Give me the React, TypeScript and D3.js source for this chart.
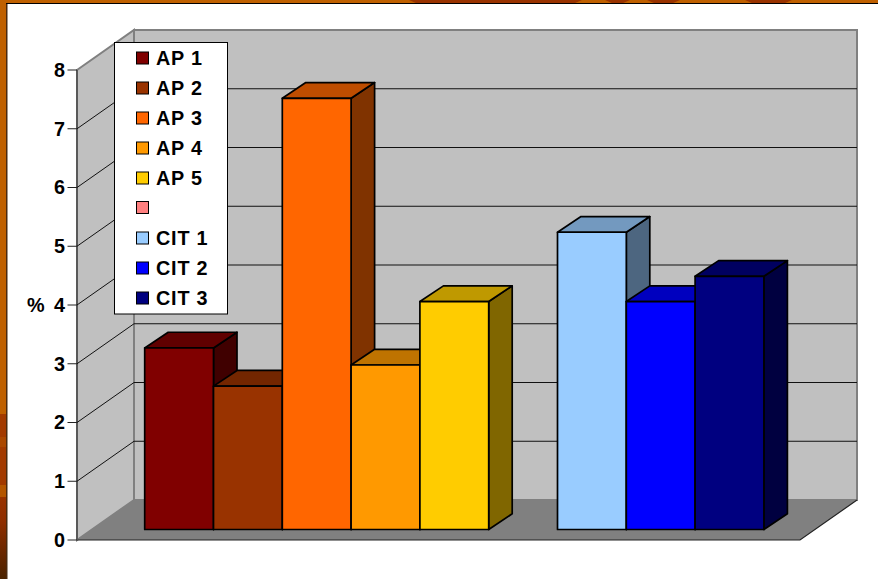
import * as d3 from "d3";

const seriesNames = ["AP 1", "AP 2", "AP 3", "AP 4", "AP 5", "", "CIT 1", "CIT 2", "CIT 3"];
const seriesValues: (number | null)[] = [3.09, 2.44, 7.34, 2.8, 3.88, null, 5.06, 3.88, 4.31];
const frontColors = ["#800000", "#993300", "#ff6600", "#ff9900", "#ffcc00", "#ff8080", "#99ccff", "#0000ff", "#000080"];
const axisTicks = [0, 1, 2, 3, 4, 5, 6, 7, 8];
const slotKeys = ["AP 1", "AP 2", "AP 3", "AP 4", "AP 5", "gap", "CIT 1", "CIT 2", "CIT 3", "end"];
const legendRowCentres = [58, 88, 118, 148, 178, 207.5, 238, 268, 298];

const W = 878;
const H = 579;
const FONT = "'Liberation Sans', Arial, sans-serif";
const LABEL_SIZE = 19.8;

// Oblique projection of the plot box
const wallDepth = { dx: 57, dy: -40 };
const barDepth = { dx: 23.5, dy: -15.7 };
const barBaseY = 529.5;

const y = d3.scaleLinear().domain([0, 8]).range([540, 70]);
const x = d3.scaleBand<string>().domain(slotKeys).range([144.7, 832.7]).padding(0);

const polygon = (pts: [number, number][]) => {
  const line = d3.line();
  return line(pts) + "Z";
};

const shade = (c: string, k: number) => {
  const rgb = d3.rgb(c);
  return d3.rgb(rgb.r * k, rgb.g * k, rgb.b * k).formatHex();
};

const leftX = 77;
const rightX = 800;
const backLeft = leftX + wallDepth.dx;
const backRight = rightX + wallDepth.dx;
const y0 = y(0);
const y8 = y(8);

function Frame() {
  return (
    <g>
      <defs>
        <linearGradient id="edgeFade" x1="0" x2="0" y1="0" y2="1">
          <stop offset="0" stopColor="#993300" />
          <stop offset="0.3" stopColor="#8f2e00" />
          <stop offset="1" stopColor="#4a2200" />
        </linearGradient>
      </defs>
      <rect x={0} y={0} width={W} height={3.5} fill="#bf6000" />
      <rect x={0} y={0} width={6.5} height={H} fill="#bf6000" />
      {[[409, 582], [605, 630], [647, 680], [745, 792]].map(([a, b]) => (
        <path key={a} d={polygon([[a, 0], [b, 0], [b - 8, 3.5], [a + 8, 3.5]])} fill="#993300" />
      ))}
      <rect x={0} y={414} width={6.5} height={23} fill="#a33a00" />
      <rect x={0} y={437} width={6.5} height={10} fill="#ab4800" />
      <rect x={0} y={447} width={6.5} height={38} fill="#a33a00" />
      <rect x={0} y={485} width={6.5} height={12} fill="#b45600" />
      <rect x={0} y={497} width={6.5} height={82} fill="url(#edgeFade)" />
      <rect x={6} y={3} width={1.5} height={H} fill="#4a2a10" />
      <rect x={6} y={3} width={W - 6} height={1} fill="#000" />
    </g>
  );
}

function Walls() {
  return (
    <g>
      <path
        d={polygon([[backLeft, y8 + wallDepth.dy], [backRight, y8 + wallDepth.dy], [backRight, y0 + wallDepth.dy], [backLeft, y0 + wallDepth.dy]])}
        fill="#c0c0c0"
        stroke="#808080"
        strokeWidth={2}
      />
      <path
        d={polygon([[leftX, y8], [backLeft, y8 + wallDepth.dy], [backLeft, y0 + wallDepth.dy], [leftX, y0]])}
        fill="#c0c0c0"
        stroke="#808080"
        strokeWidth={2}
      />
      <path
        d={polygon([[leftX, y0], [backLeft, y0 + wallDepth.dy], [backRight, y0 + wallDepth.dy], [rightX, y0]])}
        fill="#808080"
      />
      <path d={`M${leftX},${y0}H${rightX}L${backRight},${y0 + wallDepth.dy}`} fill="none" stroke="#222" strokeWidth={1.2} />
      <path d={`M${leftX},${y8}V${y0}`} stroke="#555" strokeWidth={1.8} />
      {axisTicks.filter((t) => t > 0 && t < 8).map((t) => (
        <path
          key={t}
          d={`M${leftX},${y(t)}L${backLeft},${y(t) + wallDepth.dy}H${backRight}`}
          fill="none"
          stroke="#111"
          strokeWidth={1}
        />
      ))}
    </g>
  );
}

function Axis() {
  return (
    <g fontFamily={FONT} fontWeight="bold" fontSize={LABEL_SIZE} fill="#000">
      {axisTicks.map((t) => (
        <g key={t}>
          <path d={`M67.5,${y(t)}H${leftX}`} stroke="#222" strokeWidth={1} />
          <text x={65} y={y(t) + 6.8} textAnchor="end">{t}</text>
        </g>
      ))}
      <text x={27} y={312}>%</text>
    </g>
  );
}

function Bars() {
  const { dx, dy } = barDepth;
  const lift = y0 - barBaseY;
  return (
    <g stroke="#000" strokeWidth={1.7} strokeLinejoin="round">
      {seriesValues.map((v, i) => {
        if (v === null) return null;
        const colour = frontColors[i];
        const x0 = x(slotKeys[i]) as number;
        const x1 = x0 + x.bandwidth();
        const top = y(v) - lift;
        return (
          <g key={seriesNames[i]}>
            <path d={polygon([[x1, top], [x1 + dx, top + dy], [x1 + dx, barBaseY + dy], [x1, barBaseY]])} fill={shade(colour, 0.5)} />
            <path d={polygon([[x0, top], [x0 + dx, top + dy], [x1 + dx, top + dy], [x1, top]])} fill={shade(colour, 0.75)} />
            <rect x={x0} y={top} width={x1 - x0} height={barBaseY - top} fill={colour} />
          </g>
        );
      })}
    </g>
  );
}

function Legend() {
  return (
    <g>
      <rect x={114.5} y={42.5} width={113} height={271.5} fill="#fff" stroke="#000" strokeWidth={1} />
      {seriesNames.map((name, i) => (
        <g key={i}>
          <rect x={136.5} y={legendRowCentres[i] - 6} width={12} height={12} fill={frontColors[i]} stroke="#000" strokeWidth={1} />
          {name && (
            <text x={156} y={legendRowCentres[i] + 6.8} fontFamily={FONT} fontWeight="bold" fontSize={LABEL_SIZE} letterSpacing={0.8} fill="#000">
              {name}
            </text>
          )}
        </g>
      ))}
    </g>
  );
}

export default function App() {
  return (
    <svg
      width={W}
      height={H}
      viewBox={`0 0 ${W} ${H}`}
      style={{ position: "absolute", left: 0, top: 0, display: "block", background: "#fff" }}
    >
      <Frame />
      <Walls />
      <Axis />
      <Bars />
      <Legend />
    </svg>
  );
}
